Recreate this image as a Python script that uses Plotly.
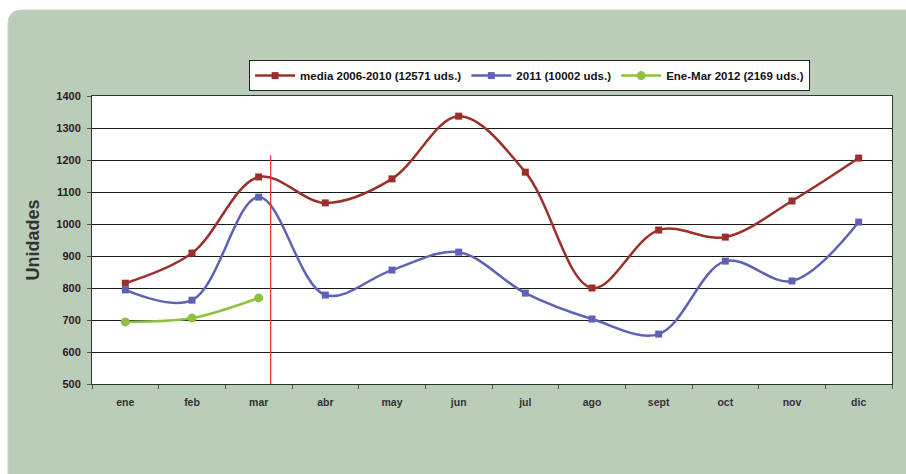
import plotly.graph_objects as go

months = ["ene", "feb", "mar", "abr", "may", "jun", "jul", "ago", "sept", "oct", "nov", "dic"]
media_2006_2010 = [815, 909, 1147, 1066, 1141, 1337, 1162, 800, 981, 959, 1072, 1206]
y2011 = [794, 762, 1084, 778, 856, 912, 784, 703, 656, 884, 822, 1006]
ene_mar_2012 = [694, 706, 769]

names = ["media 2006-2010 (12571 uds.)", "2011 (10002 uds.)", "Ene-Mar 2012 (2169 uds.)"]
colors = ["#9a2f2c", "#5f62b4", "#8dc13f"]

fig = go.Figure()
fig.add_trace(go.Scatter(x=months, y=media_2006_2010, name=names[0], mode="lines+markers",
                         line=dict(color=colors[0], width=2.5, shape="spline", smoothing=1.0),
                         marker=dict(symbol="square", size=7, color=colors[0])))
fig.add_trace(go.Scatter(x=months, y=y2011, name=names[1], mode="lines+markers",
                         line=dict(color=colors[1], width=2.5, shape="spline", smoothing=1.0),
                         marker=dict(symbol="square", size=7, color=colors[1])))
fig.add_trace(go.Scatter(x=months[:3], y=ene_mar_2012, name=names[2], mode="lines+markers",
                         line=dict(color=colors[2], width=2.5, shape="spline", smoothing=1.0),
                         marker=dict(symbol="circle", size=9, color=colors[2])))

# Background panel (rounded rectangle) in paper coords
W, H = 906, 474
L, R, T, B = 92, 14, 96, 90
pw, ph = W - L - R, H - T - B
def px(x): return (x - L) / pw
def py(y): return (H - B - y) / ph
x0, y0, x1, y1, r = 8, 10, 920, 490, 14
path = (f"M {px(x0+r)},{py(y0)} L {px(x1)},{py(y0)} L {px(x1)},{py(y1)} L {px(x0)},{py(y1)} "
        f"L {px(x0)},{py(y0+r)} Q {px(x0)},{py(y0)} {px(x0+r)},{py(y0)} Z")
fig.add_shape(type="path", path=path, xref="paper", yref="paper", layer="below",
              fillcolor="#bacdb8", line=dict(color="#c8d8c6", width=1))
fig.add_shape(type="rect", xref="paper", yref="paper", x0=0, x1=1, y0=0, y1=1, layer="below",
              fillcolor="white", line=dict(width=0))
# Red vertical marker line
fig.add_shape(type="line", xref="x", yref="y", x0=2.18, x1=2.18, y0=500, y1=1215,
              line=dict(color="#e83030", width=1.2))

fig.update_layout(
    width=W, height=H,
    margin=dict(l=L, r=R, t=T, b=B),
    paper_bgcolor="white", plot_bgcolor="rgba(0,0,0,0)",
    font=dict(family="Liberation Sans, Arial", color="#222222"),
    showlegend=True,
    legend=dict(orientation="h", x=0.547, xanchor="center", y=1.017, yanchor="bottom",
                bgcolor="white", bordercolor="#222222", borderwidth=1,
                font=dict(size=11.5, family="Liberation Sans, Arial", color="#111111", weight="bold"),
                itemwidth=40, tracegroupgap=0),
)
fig.update_xaxes(type="category", showgrid=False, showline=True, linecolor="#333333", linewidth=1,
                 mirror=True, ticks="outside", tickson="boundaries", ticklen=4, tickcolor="#555555",
                 ticklabelstandoff=8,
                 tickfont=dict(size=10.5, color="#333333", weight="bold"), range=[-0.5, 11.5])
fig.update_yaxes(range=[500, 1400], dtick=100, showgrid=True, gridcolor="#1a1a1a", gridwidth=1,
                 showline=True, linecolor="#333333", linewidth=1, mirror=True,
                 ticks="outside", ticklen=4, tickcolor="#555555", ticklabelstandoff=4,
                 tickfont=dict(size=11, color="#222222", weight="bold"),
                 title=dict(text="Unidades", font=dict(size=18, color="#333333", weight="bold"), standoff=12),
                 zeroline=False)

fig.write_html("out.html", config={"displayModeBar": False},
               post_script="document.body.style.margin='0';")
